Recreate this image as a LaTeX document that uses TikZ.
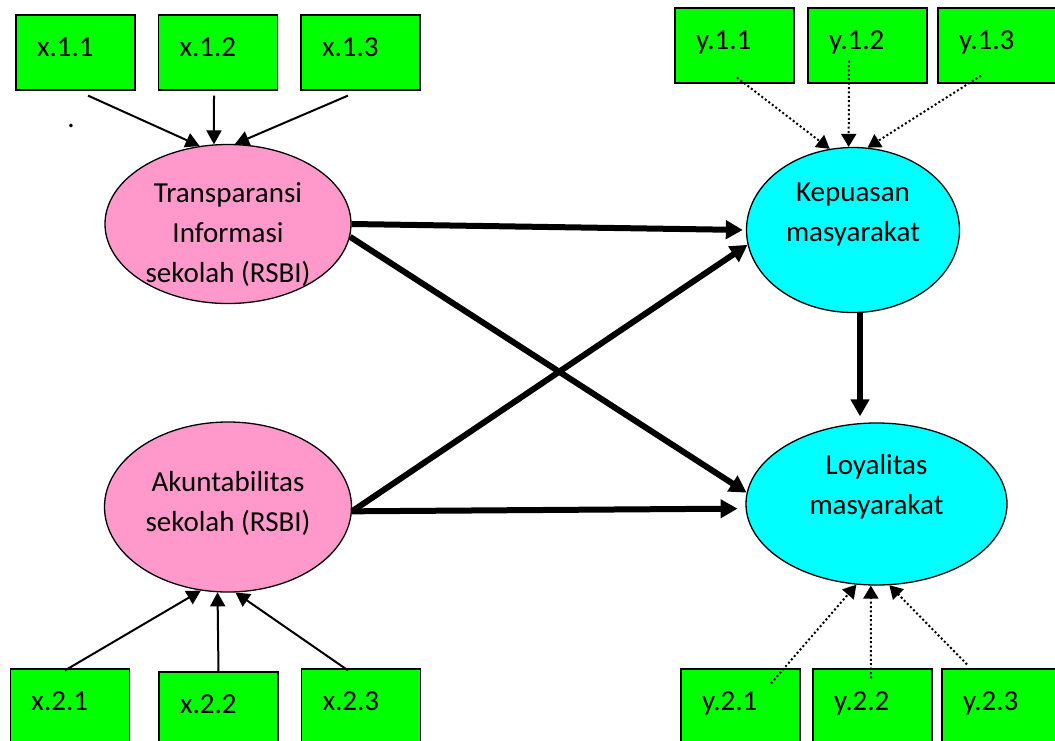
\documentclass[tikz,border=0pt]{standalone}
\usepackage{fontspec}
\setmainfont{Carlito}
\usetikzlibrary{arrows.meta,shapes.geometric}
\definecolor{boxgreen}{RGB}{0,255,0}
\definecolor{latpink}{RGB}{255,153,204}
\definecolor{latcyan}{RGB}{0,255,255}
% centred text block, lifted or lowered inside its ellipse
\newcommand{\lvtext}[2]{\raisebox{#1}[0pt][0pt]{\begin{tabular}{@{}c@{}}#2\end{tabular}}}

\begin{document}
\begin{tikzpicture}[
  x=0.5pt, y=-0.5pt,
  every node/.style={font=\fontsize{14.5}{20}\selectfont},
  indicator/.style={draw, line width=0.6pt, fill=boxgreen, minimum width=59.5pt,
    minimum height=37.5pt, text width=38.5pt, inner xsep=10.5pt, inner ysep=0pt,
    align=left, text height=9.5pt, text depth=5.3pt},
  latent/.style={ellipse, draw, line width=0.65pt, inner sep=0pt},
  loading/.style={-{Triangle[length=7pt,width=7.5pt]}, line width=1pt},
  dotload/.style={-{Triangle[length=6.5pt,width=7.5pt]}, line width=1pt,
    dash pattern=on 1pt off 1.2pt},
  structural/.style={-{Triangle[length=8.5pt,width=9pt]}, line width=3pt}
]
\useasboundingbox (0,0) rectangle (1055,740);
\clip (0,0) rectangle (1055,740);

% latent variables
\node[latent, fill=latpink, minimum width=123pt, minimum height=79.5pt] (T) at (228,224)
  {\lvtext{-8.6pt}{Transparansi\\Informasi\\sekolah (RSBI)}};
\node[latent, fill=latpink, minimum width=123.5pt, minimum height=85pt] (A) at (228,507)
  {\lvtext{-1.6pt}{Akuntabilitas\\sekolah (RSBI)}};
\node[latent, fill=latcyan, minimum width=106.5pt, minimum height=82.5pt] (K) at (853,230)
  {\lvtext{4.9pt}{Kepuasan\\masyarakat}};
\node[latent, fill=latcyan, minimum width=130.5pt, minimum height=81pt] (L) at (876.5,504)
  {\lvtext{5.4pt}{Loyalitas\\masyarakat}};

% indicators
\node[indicator] (x11) at (75.5,52.5) {x.1.1};
\node[indicator] (x12) at (218,52.5) {x.1.2};
\node[indicator] (x13) at (360.5,52.5) {x.1.3};
\node[indicator] (y11) at (734.5,45.5) {y.1.1};
\node[indicator] (y12) at (867.5,45.5) {y.1.2};
\node[indicator] (y13) at (997.5,45.5) {y.1.3};
\node[indicator] (x21) at (70,706.5) {x.2.1};
\node[indicator] (x22) at (218.5,709.5) {x.2.2};
\node[indicator] (x23) at (361,706.5) {x.2.3};
\node[indicator] (y21) at (740.5,706.5) {y.2.1};
\node[indicator] (y22) at (872.5,706.5) {y.2.2};
\node[indicator] (y23) at (1001.5,706.5) {y.2.3};
\node (dot) at (71,126) {.};

% loadings
\draw[loading] ([shift={(12.5,5)}]x11.south) -- (T.110);
\draw[loading] ([shift={(-4,5)}]x12.south) -- (T.100);
\draw[loading] ([shift={(-12.5,5)}]x13.south) -- (T.85);
\draw[loading] ([shift={(-5,2)}]x21.north) -- (A.252);
\draw[loading] (x22.north) -- (A.263);
\draw[loading] ([shift={(-13,2)}]x23.north) -- (A.275);
\draw[dotload] ([shift={(2.5,-6)}]y11.south) -- (K.106);
\draw[dotload] ([shift={(-18.5,-23)}]y12.south) -- (K.93);
\draw[dotload] ([shift={(-16.5,-8)}]y13.south) -- (K.80);
\draw[dotload] ([shift={(30.5,15)}]y21.north) -- (L.256);
\draw[dotload] ([shift={(-1.5,10)}]y22.north) -- (L.266);
\draw[dotload] ([shift={(-34.5,-4)}]y23.north) -- (L.279);

% structural paths
\coordinate (kl) at ([xshift=3.5pt]K.south);
\draw[structural, shorten >=1.5pt] (T.0) -- (K.west);
\draw[structural] (T.354) -- (L.175);
\draw[structural] (A.358) -- (K.188);
\draw[structural, shorten >=4pt] (A.358) -- (L.182);
\draw[structural, shorten >=3pt] (kl) -- (kl |- L.north);
\end{tikzpicture}
\end{document}
